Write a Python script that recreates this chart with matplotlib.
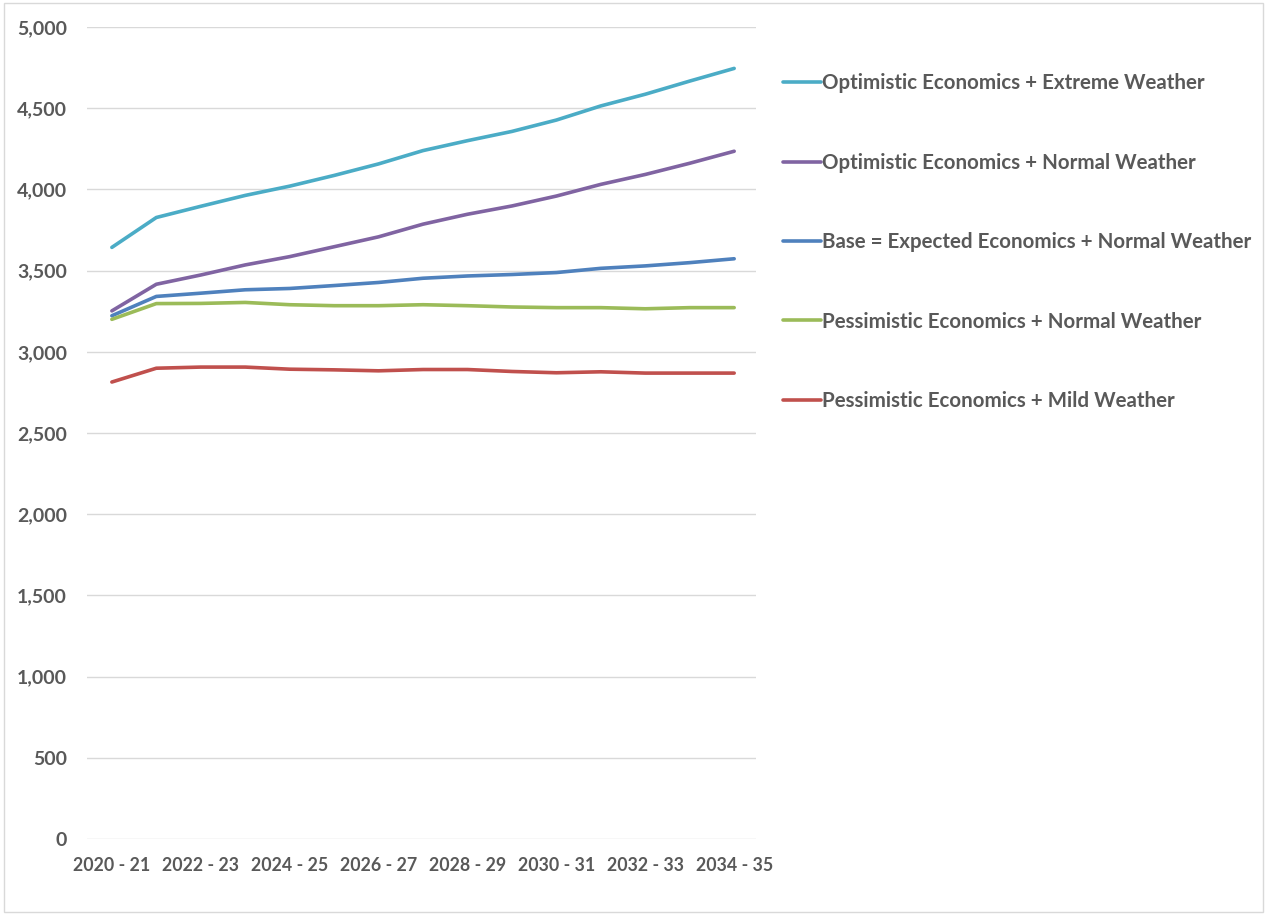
import matplotlib
matplotlib.use("Agg")
import matplotlib.pyplot as plt
from matplotlib.patches import Rectangle
from matplotlib.ticker import FuncFormatter

years = ["2020 - 21", "2021 - 22", "2022 - 23", "2023 - 24", "2024 - 25",
         "2025 - 26", "2026 - 27", "2027 - 28", "2028 - 29", "2029 - 30",
         "2030 - 31", "2031 - 32", "2032 - 33", "2033 - 34", "2034 - 35"]

opt_extreme = [3643, 3827, 3896, 3963, 4020, 4086, 4157, 4239, 4300, 4357,
               4427, 4514, 4586, 4667, 4745]
opt_normal = [3252, 3416, 3473, 3535, 3586, 3647, 3708, 3786, 3847, 3898,
              3959, 4031, 4092, 4161, 4235]
base_normal = [3222, 3341, 3361, 3382, 3390, 3408, 3427, 3453, 3467, 3476,
               3488, 3514, 3529, 3549, 3573]
pess_normal = [3200, 3297, 3298, 3304, 3290, 3284, 3284, 3290, 3284, 3276,
               3272, 3272, 3265, 3272, 3272]
pess_mild = [2814, 2899, 2906, 2906, 2893, 2889, 2883, 2891, 2891, 2879,
             2871, 2877, 2869, 2869, 2869]

series = [
    ("Optimistic Economics + Extreme Weather", opt_extreme, "#4BACC6"),
    ("Optimistic Economics + Normal Weather", opt_normal, "#8064A2"),
    ("Base = Expected Economics + Normal Weather", base_normal, "#4F81BD"),
    ("Pessimistic Economics + Normal Weather", pess_normal, "#9BBB59"),
    ("Pessimistic Economics + Mild Weather", pess_mild, "#C0504D"),
]

text_col = "#595959"
font = "Lato"

fig = plt.figure(figsize=(12.67, 9.15), dpi=100)
ax = fig.add_axes([0.069, 0.083, 0.528, 0.8875])

x = list(range(len(years)))
handles = []
for name, vals, col in series:
    ln, = ax.plot(x, vals, color=col, lw=2.6, solid_capstyle="round", label=name)
    handles.append(ln)

ax.set_ylim(0, 5000)
ax.set_xlim(-0.55, 14.5)
ax.set_yticks(range(0, 5001, 500))
ax.yaxis.set_major_formatter(FuncFormatter(lambda v, p: f"{int(v):,}"))
ax.set_xticks(x[::2])
ax.set_xticklabels(years[::2])
ax.grid(axis="y", color="#D9D9D9", lw=1)
ax.set_axisbelow(True)
for s in ax.spines.values():
    s.set_visible(False)
ax.tick_params(length=0, colors=text_col)
ax.tick_params(axis="y", pad=14.7, labelsize=14)
ax.tick_params(axis="x", pad=13, labelsize=12.8)
for lab in ax.get_xticklabels() + ax.get_yticklabels():
    lab.set_fontfamily(font)
    lab.set_fontweight("bold")
    lab.set_color(text_col)

# legend sits to the right of the plot, one entry per scenario
leg = fig.legend(handles=handles, loc="upper left", bbox_to_anchor=(0.6037, 0.940),
                 frameon=False, handlelength=1.85, handletextpad=0.03,
                 labelspacing=2.89, prop={"family": font, "weight": "bold", "size": 14.8})
for t in leg.get_texts():
    t.set_color(text_col)

fig.patches.append(Rectangle((0.003, 0.003), 0.994, 0.994, transform=fig.transFigure,
                             fill=False, ec="#D9D9D9", lw=1))

fig.savefig("out.png", dpi=100, facecolor="white")
